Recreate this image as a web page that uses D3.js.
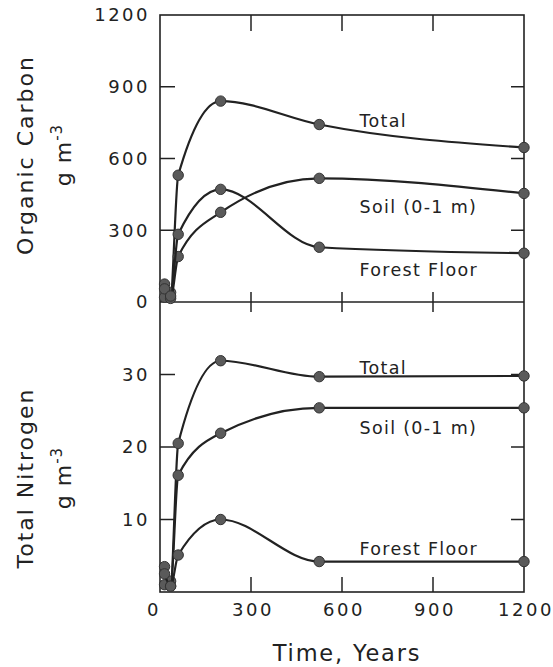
<!DOCTYPE html>
<html><head><meta charset="utf-8">
<script src="https://cdn.jsdelivr.net/npm/d3@7"></script>
<style>
body{margin:0;background:#fff;}
text{font-family:"DejaVu Sans",sans-serif;fill:#222;}
</style></head>
<body><svg id="c" width="553" height="667"></svg>
<script>
// ---- data ----
const years = [15, 35, 60, 200, 525, 1200];
const carbonTotal  = [75, 40, 530, 840, 742, 646];
const carbonSoil   = [20, 15, 190, 375, 517, 454];
const carbonFloor  = [55, 25, 283, 471, 229, 204];
const nitroTotal   = [3.5, 1.5, 20.5, 31.9, 29.7, 29.8];
const nitroSoil    = [1.0, 0.8, 16.1, 21.9, 25.4, 25.4];
const nitroFloor   = [2.5, 0.8, 5.1, 10.0, 4.2, 4.2];
const xTicks = [0, 300, 600, 900, 1200];
const carbonTicks = [0, 300, 600, 900, 1200];
const nitroTicks = [10, 20, 30];
const seriesNames = ["Total", "Soil (0-1 m)", "Forest Floor"];

const svg = d3.select("#c");
const x = d3.scaleLinear().domain([0, 1200]).range([160, 524]);
const yC = d3.scaleLinear().domain([0, 1200]).range([302, 15]);
const yN = d3.scaleLinear().domain([0, 40]).range([592, 302]);
const ink = "#222";

// frame
const g = svg.append("g");
g.append("rect").attr("x", x(0)).attr("y", yC(1200)).attr("width", x(1200) - x(0))
  .attr("height", yN(0) - yC(1200)).attr("fill", "none").attr("stroke", ink).attr("stroke-width", 1.6);
g.append("line").attr("x1", x(0)).attr("x2", x(1200)).attr("y1", yC(0)).attr("y2", yC(0))
  .attr("stroke", ink).attr("stroke-width", 1.6);

// x ticks (top border, middle divider, bottom)
xTicks.slice(1, 4).forEach(t => {
  g.append("line").attr("x1", x(t)).attr("x2", x(t)).attr("y1", yC(1200)).attr("y2", yC(1200) + 16).attr("stroke", ink).attr("stroke-width", 1.5);
  g.append("line").attr("x1", x(t)).attr("x2", x(t)).attr("y1", yC(0) - 10).attr("y2", yC(0) + 10).attr("stroke", ink).attr("stroke-width", 1.5);
  g.append("line").attr("x1", x(t)).attr("x2", x(t)).attr("y1", yN(0)).attr("y2", yN(0) - 15).attr("stroke", ink).attr("stroke-width", 1.5);
});
// y ticks
carbonTicks.slice(1, 4).forEach(t => {
  g.append("line").attr("x1", x(0)).attr("x2", x(0) + 15).attr("y1", yC(t)).attr("y2", yC(t)).attr("stroke", ink).attr("stroke-width", 1.5);
  g.append("line").attr("x1", x(1200)).attr("x2", x(1200) - 13).attr("y1", yC(t)).attr("y2", yC(t)).attr("stroke", ink).attr("stroke-width", 1.5);
});
nitroTicks.forEach(t => {
  g.append("line").attr("x1", x(0)).attr("x2", x(0) + 15).attr("y1", yN(t)).attr("y2", yN(t)).attr("stroke", ink).attr("stroke-width", 1.5);
  g.append("line").attr("x1", x(1200)).attr("x2", x(1200) - 13).attr("y1", yN(t)).attr("y2", yN(t)).attr("stroke", ink).attr("stroke-width", 1.5);
});

// tick labels
carbonTicks.forEach(t => {
  g.append("text").attr("x", 150).attr("y", yC(t)).attr("dy", "0.36em").attr("text-anchor", "end")
    .attr("font-size", 18).attr("letter-spacing", 2.5).text(t);
});
nitroTicks.forEach(t => {
  g.append("text").attr("x", 150).attr("y", yN(t)).attr("dy", "0.36em").attr("text-anchor", "end")
    .attr("font-size", 18).attr("letter-spacing", 2.5).text(t);
});
xTicks.forEach(t => {
  g.append("text").attr("x", t === 0 ? x(t) - 6 : x(t) + 2).attr("y", 616).attr("text-anchor", "middle")
    .attr("font-size", 18).attr("letter-spacing", 2.5).text(t);
});

// axis titles
g.append("text").attr("x", 347).attr("y", 661).attr("text-anchor", "middle")
  .attr("font-size", 22.5).attr("letter-spacing", 1.8).text("Time, Years");
function yTitle(cy, label) {
  g.append("text").attr("transform", `translate(33,${cy}) rotate(-90)`)
    .attr("text-anchor", "middle").attr("font-size", 22).attr("letter-spacing", 2).text(label);
  const t2 = g.append("text").attr("transform", `translate(71,${cy}) rotate(-90)`)
    .attr("text-anchor", "middle").attr("font-size", 22).attr("letter-spacing", 1);
  t2.append("tspan").text("g m");
  t2.append("tspan").attr("dy", -9).attr("font-size", 15).text("-3");
}
yTitle(155, "Organic Carbon");
yTitle(478, "Total Nitrogen");

// series
function drawSeries(vals, y) {
  const pts = years.map((yr, i) => [yr, vals[i]]);
  const line = d3.line().x(d => x(d[0])).y(d => y(d[1])).curve(d3.curveMonotoneX);
  g.append("path").attr("d", line(pts)).attr("fill", "none").attr("stroke", ink).attr("stroke-width", 2.2);
  g.selectAll(null).data(pts).enter().append("circle")
    .attr("cx", d => x(d[0])).attr("cy", d => y(d[1])).attr("r", 5.2)
    .attr("fill", "#5a5a5a").attr("stroke", "#333").attr("stroke-width", 1);
}
[carbonTotal, carbonSoil, carbonFloor].forEach(v => drawSeries(v, yC));
[nitroTotal, nitroSoil, nitroFloor].forEach(v => drawSeries(v, yN));

// series labels (positions in data space)
const labelYearStart = 658;
const carbonLabelVals = [732, 372, 108];
const nitroLabelVals = [30.1, 21.8, 5.1];
seriesNames.forEach((n, i) => {
  g.append("text").attr("x", x(labelYearStart)).attr("y", yC(carbonLabelVals[i]))
    .attr("font-size", 17.5).attr("letter-spacing", 1.3).text(n);
  g.append("text").attr("x", x(labelYearStart)).attr("y", yN(nitroLabelVals[i]))
    .attr("font-size", 17.5).attr("letter-spacing", 1.3).text(n);
});
</script></body></html>
